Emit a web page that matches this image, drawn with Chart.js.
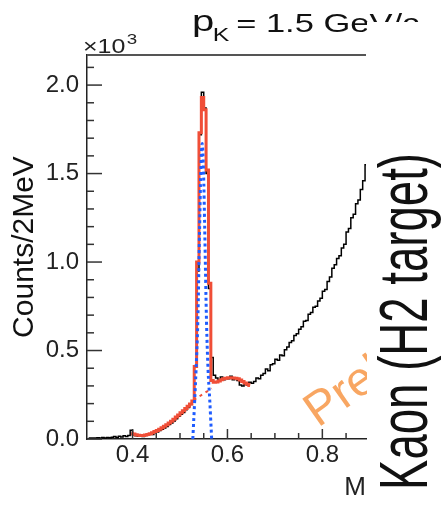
<!DOCTYPE html>
<html>
<head>
  <title>Two-photon mass, kaon beam</title>
  <script src="https://cdn.jsdelivr.net/npm/chart.js"></script>
  <style>
    html, body { margin: 0; padding: 0; background: #fff; }
    canvas { display: block; }
  </style>
</head>
<body>
  <canvas id="massChart" width="442" height="505"></canvas>

  <script>
    // histogram: 5 MeV bins, first bin centre 0.3075 GeV
    const binStart = 0.3075;
    const binWidth = 0.005;
    const counts = [
      5, 5, 6, 5, 7, 6, 8, 6, 9, 7,
      10, 14, 9, 16, 12, 18, 14, 20, 50, 22,
      18, 15, 16, 14, 20, 22, 28, 26, 35, 40,
      48, 55, 62, 70, 82, 90, 102, 115, 128, 140,
      150, 165, 178, 195, 215, 410, 950, 1720, 1960, 1870,
      1500, 850, 460, 360, 345, 330, 350, 335, 345, 340,
      355, 335, 345, 330, 305, 300, 315, 305, 320, 315,
      325, 345, 340, 360, 370, 395, 385, 420, 425, 450,
      445, 475, 470, 505, 520, 545, 555, 585, 595, 620,
      635, 665, 670, 705, 715, 745, 750, 780, 795, 835,
      845, 890, 915, 965, 985, 1020, 1035, 1080, 1100, 1170,
      1190, 1250, 1270, 1330, 1350, 1410, 1460, 1550
    ];

    // total fit (red), same binning, starts at 0.3975
    const fitStart = 0.3975;
    const fitCounts = [
      32, 28, 24, 21, 20, 20, 22, 26, 30, 36,
      42, 48, 55, 63, 72, 80, 90, 100, 112, 124,
      136, 148, 160, 172, 185, 198, 215, 410, 1000, 1730,
      1930, 1860, 1520, 880, 330, 320, 322, 328, 335, 340,
      344, 346, 346, 345, 343, 340, 333, 325, 317, 310,
      303
    ];

    // signal component (blue dotted)
    const signalMass = [0.527, 0.531, 0.534, 0.5375, 0.5414, 0.5437, 0.5467, 0.5497, 0.552, 0.5559, 0.559, 0.5627, 0.5667];
    const signalCounts = [0, 220, 400, 660, 1200, 1500, 1670, 1500, 1200, 660, 400, 220, 0];

    // background under the peak (red dashed)
    const bgMass = [0.529, 0.549, 0.567];
    const bgCounts = [220, 255, 285];

    const xMajorTicks = [0.4, 0.6, 0.8];
    const xMinorTicks = [0.45, 0.5, 0.55, 0.65, 0.7, 0.75, 0.85];
    const yMajorTicks = [0, 500, 1000, 1500, 2000];
    const yMinorTicks = [100, 200, 300, 400, 600, 700, 800, 900, 1100, 1200, 1300, 1400, 1600, 1700, 1800, 1900, 2100];

    const FONT = '"Liberation Sans", Arial, sans-serif';

    const histPts = counts.map((c, i) => ({ x: binStart + i * binWidth, y: c }));
    const fitPts = fitCounts.map((c, i) => ({ x: fitStart + i * binWidth, y: c }));
    const signalPts = signalMass.map((m, i) => ({ x: m, y: signalCounts[i] }));
    const bgPts = bgMass.map((m, i) => ({ x: m, y: bgCounts[i] }));

    function seg(ctx, x1, y1, x2, y2) {
      ctx.beginPath();
      ctx.moveTo(x1, y1);
      ctx.lineTo(x2, y2);
      ctx.stroke();
    }

    const decorations = {
      id: 'decorations',
      afterDraw(chart) {
        const { ctx, chartArea: a, scales: { x, y } } = chart;
        ctx.save();

        // inward ticks, ROOT style
        ctx.strokeStyle = '#333';
        ctx.lineWidth = 1.5;
        yMajorTicks.forEach(v => { const p = y.getPixelForValue(v); seg(ctx, a.left, p, a.left + 15, p); });
        yMinorTicks.forEach(v => { const p = y.getPixelForValue(v); seg(ctx, a.left, p, a.left + 7, p); });
        xMajorTicks.forEach(v => { const p = x.getPixelForValue(v); seg(ctx, p, a.bottom, p, a.bottom - 10); });
        xMinorTicks.forEach(v => { const p = x.getPixelForValue(v); seg(ctx, p, a.bottom, p, a.bottom - 6); });

        // top frame
        ctx.strokeStyle = '#555';
        ctx.lineWidth = 2;
        seg(ctx, a.left, a.top, a.right, a.top);

        // watermark
        ctx.save();
        ctx.translate(318, 428);
        ctx.rotate(-35 * Math.PI / 180);
        ctx.font = '48px ' + FONT;
        ctx.fillStyle = 'rgba(247, 150, 70, 0.85)';
        ctx.fillText('Preliminary', 0, 0);
        ctx.restore();

        // exponent label
        ctx.save();
        ctx.fillStyle = '#222';
        ctx.translate(83, 0);
        ctx.scale(1.25, 1);
        ctx.font = '20px ' + FONT;
        ctx.fillText('\u00d710', 0, 53);
        const ew = ctx.measureText('\u00d710').width;
        ctx.font = '15px ' + FONT;
        ctx.fillText('3', ew + 1, 44);
        ctx.restore();

        // title
        ctx.save();
        ctx.fillStyle = '#111';
        ctx.translate(192, 0);
        ctx.scale(1.38, 1);
        ctx.font = '29px ' + FONT;
        ctx.fillText('p', 0, 31);
        ctx.font = '18px ' + FONT;
        ctx.fillText('K', 15, 41);
        ctx.font = '25px ' + FONT;
        ctx.fillText('= 1.5 GeV/c', 32, 32);
        ctx.restore();

        // side panel covering the right part
        ctx.fillStyle = '#fff';
        ctx.fillRect(367, 22, 442 - 367, 505 - 22);

        ctx.save();
        ctx.fillStyle = '#111';
        ctx.translate(427, 490);
        ctx.rotate(-Math.PI / 2);
        ctx.font = '68px ' + FONT;
        const label = 'Kaon (H2 target)';
        const w = ctx.measureText(label).width;
        ctx.scale(337 / w, 1);
        ctx.fillText(label, 0, 0);
        ctx.restore();

        ctx.restore();
      }
    };

    const ctx = document.getElementById('massChart').getContext('2d');

    const chart = new Chart(ctx, {
      type: 'line',
      data: {
        datasets: [
          { label: 'signal', data: signalPts, borderColor: '#1f5cff', borderWidth: 3, borderDash: [3, 3],
            pointRadius: 0, cubicInterpolationMode: 'monotone', fill: false },
          { label: 'fit', data: fitPts, borderColor: '#f04e37', borderWidth: 3, stepped: 'middle',
            pointRadius: 0, fill: false },
          { label: 'background', data: bgPts, borderColor: '#f04e37', borderWidth: 2, borderDash: [3, 4],
            pointRadius: 0, fill: false },
          { label: 'data', data: histPts, borderColor: '#000', borderWidth: 1.5, stepped: 'middle',
            pointRadius: 0, fill: false }
        ]
      },
      options: {
        responsive: false,
        animation: false,
        layout: { padding: { top: 55, right: 76, bottom: 0, left: 0 } },
        plugins: { legend: { display: false }, tooltip: { enabled: false } },
        scales: {
          x: {
            type: 'linear',
            min: 0.304,
            max: 0.892,
            bounds: 'data',
            afterFit: s => { s.height = 66; },
            afterBuildTicks: s => { s.ticks = xMajorTicks.map(v => ({ value: v })); },
            grid: { display: false, drawTicks: false },
            border: { display: true, color: '#222', width: 1.5 },
            ticks: {
              autoSkip: false, maxRotation: 0, padding: 2, color: '#222',
              font: { family: FONT, size: 24 },
              callback: v => v.toFixed(1)
            },
            title: {
              display: true, text: 'M', align: 'end', color: '#222',
              font: { family: FONT, size: 26 }, padding: { top: 0, bottom: 2 }
            }
          },
          y: {
            min: 0,
            max: 2170,
            bounds: 'data',
            afterFit: s => { s.width = 87; },
            afterBuildTicks: s => { s.ticks = yMajorTicks.map(v => ({ value: v })); },
            grid: { display: false, drawTicks: false },
            border: { display: true, color: '#222', width: 1.5 },
            ticks: {
              autoSkip: false, padding: 8, color: '#222',
              font: { family: FONT, size: 24 },
              callback: v => (v / 1000).toFixed(1)
            },
            title: {
              display: true, text: 'Counts/2MeV', color: '#111',
              font: { family: FONT, size: 30 }, padding: { top: 7, bottom: 0 }
            }
          }
        }
      },
      plugins: [decorations]
    });
  </script>
</body>
</html>
